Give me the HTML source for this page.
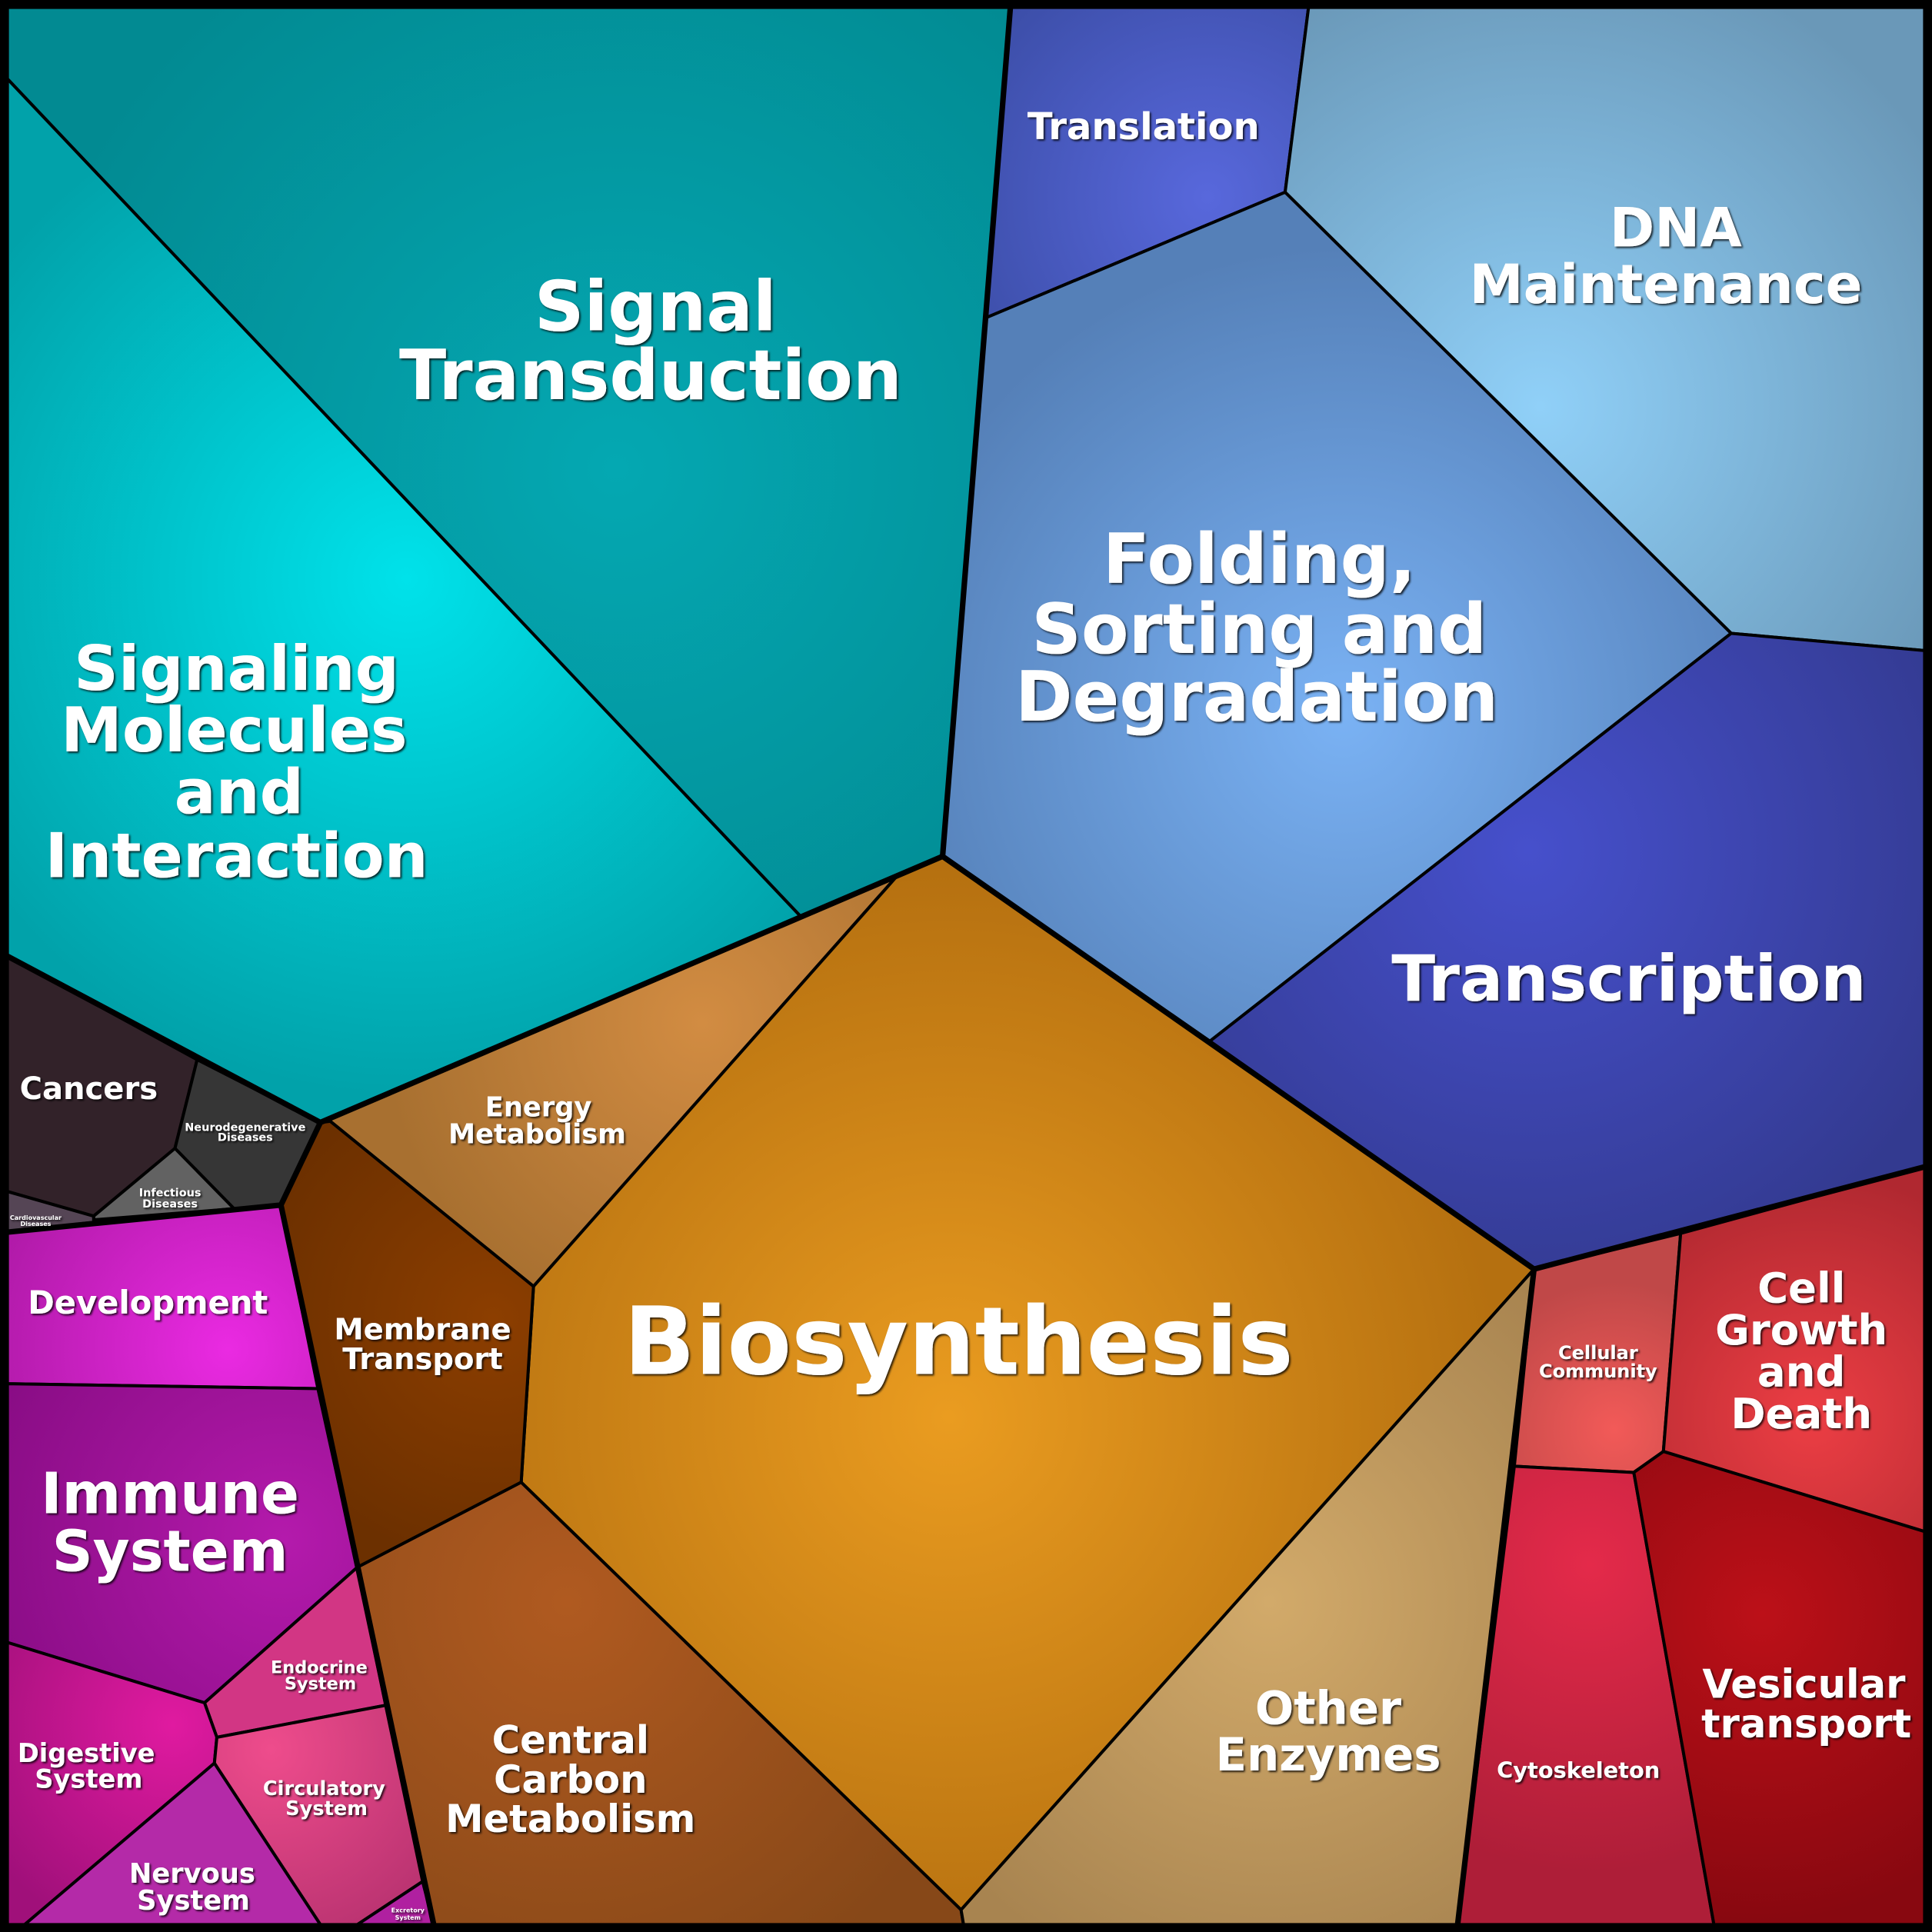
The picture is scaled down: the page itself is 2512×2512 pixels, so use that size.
<!DOCTYPE html>
<html><head><meta charset="utf-8"><style>
html,body{margin:0;padding:0;background:#000;}
svg{display:block;}
text{font-family:"DejaVu Sans","Liberation Sans",sans-serif;font-weight:bold;fill:#fff;text-anchor:middle;}
</style></head><body>
<svg width="2512" height="2512" viewBox="0 0 1568 1568" xmlns="http://www.w3.org/2000/svg">
<defs>
<filter id="sh" x="-10%" y="-10%" width="120%" height="130%"><feDropShadow dx="1.2" dy="1.2" stdDeviation="0.8" flood-color="#000" flood-opacity="0.8"/></filter>
<radialGradient id="gST" gradientUnits="userSpaceOnUse" cx="500" cy="380" r="500"><stop offset="0" stop-color="#04a8b2"/><stop offset="1" stop-color="#028a92"/></radialGradient>
<radialGradient id="gSM" gradientUnits="userSpaceOnUse" cx="330" cy="470" r="420"><stop offset="0" stop-color="#00e2ea"/><stop offset="1" stop-color="#01a2aa"/></radialGradient>
<radialGradient id="gTL" gradientUnits="userSpaceOnUse" cx="980" cy="160" r="220"><stop offset="0" stop-color="#5868dc"/><stop offset="1" stop-color="#3c4ea8"/></radialGradient>
<radialGradient id="gDNA" gradientUnits="userSpaceOnUse" cx="1250" cy="330" r="380"><stop offset="0" stop-color="#90d0f8"/><stop offset="1" stop-color="#6a98b8"/></radialGradient>
<radialGradient id="gFO" gradientUnits="userSpaceOnUse" cx="1090" cy="580" r="380"><stop offset="0" stop-color="#7ab2f4"/><stop offset="1" stop-color="#5580b8"/></radialGradient>
<radialGradient id="gTR" gradientUnits="userSpaceOnUse" cx="1240" cy="690" r="380"><stop offset="0" stop-color="#4650cc"/><stop offset="1" stop-color="#333a90"/></radialGradient>
<radialGradient id="gEN" gradientUnits="userSpaceOnUse" cx="570" cy="830" r="260"><stop offset="0" stop-color="#d28c42"/><stop offset="1" stop-color="#a87030"/></radialGradient>
<radialGradient id="gBI" gradientUnits="userSpaceOnUse" cx="770" cy="1150" r="450"><stop offset="0" stop-color="#ea9c20"/><stop offset="1" stop-color="#b57010"/></radialGradient>
<radialGradient id="gME" gradientUnits="userSpaceOnUse" cx="400" cy="1070" r="200"><stop offset="0" stop-color="#8c3e00"/><stop offset="1" stop-color="#6c3000"/></radialGradient>
<radialGradient id="gCC" gradientUnits="userSpaceOnUse" cx="460" cy="1300" r="350"><stop offset="0" stop-color="#b05a20"/><stop offset="1" stop-color="#874818"/></radialGradient>
<radialGradient id="gOE" gradientUnits="userSpaceOnUse" cx="1030" cy="1300" r="330"><stop offset="0" stop-color="#d2aa6a"/><stop offset="1" stop-color="#a88450"/></radialGradient>
<radialGradient id="gDV" gradientUnits="userSpaceOnUse" cx="185" cy="1095" r="200"><stop offset="0" stop-color="#ea2ae2"/><stop offset="1" stop-color="#b01aa8"/></radialGradient>
<radialGradient id="gIM" gradientUnits="userSpaceOnUse" cx="230" cy="1250" r="260"><stop offset="0" stop-color="#b41aac"/><stop offset="1" stop-color="#880c84"/></radialGradient>
<radialGradient id="gDI" gradientUnits="userSpaceOnUse" cx="140" cy="1400" r="180"><stop offset="0" stop-color="#e01aa0"/><stop offset="1" stop-color="#a0107a"/></radialGradient>
<radialGradient id="gCI" gradientUnits="userSpaceOnUse" cx="220" cy="1420" r="170"><stop offset="0" stop-color="#ee4c8c"/><stop offset="1" stop-color="#b83270"/></radialGradient>
<radialGradient id="gCG" gradientUnits="userSpaceOnUse" cx="1470" cy="1150" r="200"><stop offset="0" stop-color="#ec3e44"/><stop offset="1" stop-color="#b02830"/></radialGradient>
<radialGradient id="gCY" gradientUnits="userSpaceOnUse" cx="1290" cy="1270" r="250"><stop offset="0" stop-color="#e42a4a"/><stop offset="1" stop-color="#ae1e38"/></radialGradient>
<radialGradient id="gVE" gradientUnits="userSpaceOnUse" cx="1430" cy="1310" r="250"><stop offset="0" stop-color="#bc1018"/><stop offset="1" stop-color="#880810"/></radialGradient>
<radialGradient id="gCM" gradientUnits="userSpaceOnUse" cx="1310" cy="1160" r="120"><stop offset="0" stop-color="#f25a58"/><stop offset="1" stop-color="#c04848"/></radialGradient>
</defs>
<rect width="1568" height="1568" fill="#000"/>
<g stroke="#000" stroke-width="2.5" stroke-linejoin="round">
<polygon fill="url(#gST)" points="6,6 820,6 800,258 765,695 650,744 6,64"/>
<polygon fill="url(#gSM)" points="6,64 650,744 260,911 160,860 6,776"/>
<polygon fill="url(#gEN)" points="260,911 650,744 728,711 433,1044 268,910"/>
<polygon fill="url(#gBI)" points="728,711 765,695 1245,1030 780,1550 423,1203 433,1044"/>
<polygon fill="url(#gME)" points="260,911 268,910 433,1044 423,1203 290,1272 228,978"/>
<polygon fill="url(#gCC)" points="290,1272 423,1203 780,1550 782,1562 352,1562"/>
<polygon fill="url(#gOE)" points="780,1550 1245,1030 1183,1562 782,1562"/>
<polygon fill="#322229" points="6,776 160,860 142,932 76,987 6,967"/>
<polygon fill="#363636" points="160,860 260,911 228,978 190,981 142,932"/>
<polygon fill="#626262" points="142,932 190,981 76,990 76,987"/>
<polygon fill="#554555" points="6,967 76,987 76,992 6,1000"/>
<polygon fill="url(#gDV)" points="6,1000 228,978 258,1127 6,1123"/>
<polygon fill="url(#gIM)" points="6,1123 258,1127 290,1272 166,1382 6,1333"/>
<polygon fill="#d23684" points="166,1382 290,1272 313,1384 176,1410"/>
<polygon fill="url(#gDI)" points="6,1333 166,1382 176,1410 174,1431 20,1562 6,1562"/>
<polygon fill="url(#gCI)" points="176,1410 313,1384 343,1527 290,1562 260,1562 174,1431"/>
<polygon fill="#b42aa8" points="174,1431 260,1562 20,1562"/>
<polygon fill="#b020a0" points="343,1527 352,1562 290,1562"/>
<polygon fill="url(#gTL)" points="820,6 1062,6 1043,156 800,258"/>
<polygon fill="url(#gDNA)" points="1062,6 1562,6 1562,528 1405,514 1043,156"/>
<polygon fill="url(#gFO)" points="800,258 1043,156 1405,514 982,845 765,695"/>
<polygon fill="url(#gTR)" points="1405,514 1562,528 1562,947 1245,1030 982,845"/>
<polygon fill="url(#gCM)" points="1245,1030 1364,1001 1350,1178 1326,1195 1229,1190"/>
<polygon fill="url(#gCG)" points="1364,1001 1562,947 1562,1243 1350,1178"/>
<polygon fill="url(#gCY)" points="1229,1190 1326,1195 1391,1562 1183,1562"/>
<polygon fill="url(#gVE)" points="1326,1195 1350,1178 1562,1243 1562,1562 1391,1562"/>
</g>
<g stroke="#000" stroke-width="4.5" fill="none" stroke-linejoin="round">
<polyline points="820,6 765,695 1245,1030 1183,1562"/>
<polyline points="1245,1030 1562,947"/>
<polyline points="765,695 260,911 228,978 6,1000"/>
<polyline points="260,911 6,776"/>
<polyline points="228,978 352,1562"/>
</g>
<rect x="3.5" y="3.5" width="1561" height="1561" fill="none" stroke="#000" stroke-width="7"/>
<g filter="url(#sh)">
<text font-size="56" x="532" y="268">Signal</text>
<text font-size="56" x="528" y="324">Transduction</text>
<text font-size="50" x="192" y="560">Signaling</text>
<text font-size="50" x="190" y="610">Molecules</text>
<text font-size="50" x="194" y="660">and</text>
<text font-size="50" x="192" y="712">Interaction</text>
<text font-size="30" x="928" y="113">Translation</text>
<text font-size="44" x="1360" y="200">DNA</text>
<text font-size="44" x="1352" y="246">Maintenance</text>
<text font-size="56" x="1022" y="473">Folding,</text>
<text font-size="56" x="1022" y="530">Sorting and</text>
<text font-size="56" x="1020" y="585">Degradation</text>
<text font-size="52" x="1322" y="812">Transcription</text>
<text font-size="22" x="437" y="906">Energy</text>
<text font-size="22" x="436" y="928">Metabolism</text>
<text font-size="76" x="778" y="1115">Biosynthesis</text>
<text font-size="24" x="343" y="1087">Membrane</text>
<text font-size="24" x="343" y="1111">Transport</text>
<text font-size="31" x="463" y="1423">Central</text>
<text font-size="31" x="463" y="1455">Carbon</text>
<text font-size="31" x="463" y="1487">Metabolism</text>
<text font-size="37" x="1078" y="1399">Other</text>
<text font-size="37" x="1078" y="1437">Enzymes</text>
<text font-size="25" x="72" y="892">Cancers</text>
<text font-size="9" x="199" y="918">Neurodegenerative</text>
<text font-size="9" x="199" y="926">Diseases</text>
<text font-size="9" x="138" y="971">Infectious</text>
<text font-size="9" x="138" y="980">Diseases</text>
<text font-size="5" x="29" y="990">Cardiovascular</text>
<text font-size="5" x="29" y="995">Diseases</text>
<text font-size="26" x="120" y="1066">Development</text>
<text font-size="46" x="138" y="1228">Immune</text>
<text font-size="46" x="138" y="1275">System</text>
<text font-size="14" x="259" y="1358">Endocrine</text>
<text font-size="14" x="260" y="1371">System</text>
<text font-size="21" x="70" y="1430">Digestive</text>
<text font-size="21" x="72" y="1451">System</text>
<text font-size="16" x="263" y="1457">Circulatory</text>
<text font-size="16" x="265" y="1473">System</text>
<text font-size="22" x="156" y="1528">Nervous</text>
<text font-size="22" x="157" y="1550">System</text>
<text font-size="5" x="331" y="1552">Excretory</text>
<text font-size="5" x="331" y="1558">System</text>
<text font-size="15" x="1297" y="1103">Cellular</text>
<text font-size="15" x="1297" y="1118">Community</text>
<text font-size="34" x="1462" y="1057">Cell</text>
<text font-size="34" x="1462" y="1091">Growth</text>
<text font-size="34" x="1462" y="1125">and</text>
<text font-size="34" x="1462" y="1159">Death</text>
<text font-size="18" x="1281" y="1443">Cytoskeleton</text>
<text font-size="32" x="1464" y="1378">Vesicular</text>
<text font-size="32" x="1466" y="1410">transport</text>
</g>
</svg>
</body></html>
